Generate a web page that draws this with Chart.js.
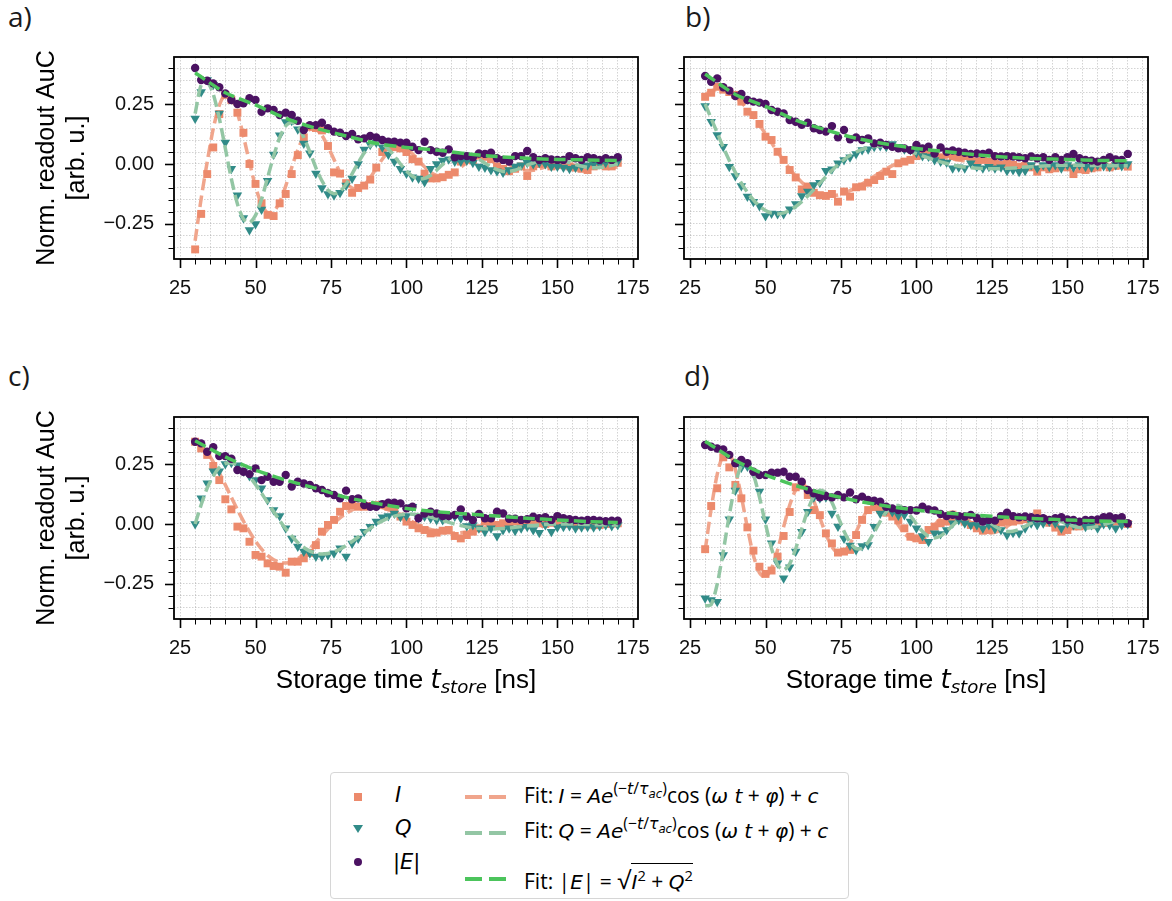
<!DOCTYPE html>
<html>
<head>
<meta charset="utf-8">
<script src="https://cdn.jsdelivr.net/npm/chart.js@4.4.1/dist/chart.umd.min.js"></script>
<style>
  body { margin: 0; width: 1172px; height: 901px; background: #fff; position: relative; overflow: hidden; font-family: "Liberation Sans", Arial, sans-serif; color: #000; }
  canvas { position: absolute; }
  .tag { position: absolute; font-family: "Open Sans", sans-serif; font-size: 28px; line-height: 28px; color: #1a1a1a; }
  .xtitle { position: absolute; width: 464px; text-align: center; font-size: 26px; line-height: 26px; white-space: nowrap; }
  .m { font-family: "DejaVu Sans", sans-serif; font-style: italic; }
  .xtitle .sub { font-size: 0.7em; position: relative; top: 0.3em; }
  #legendBox { position: absolute; left: 330px; top: 772px; width: 517px; height: 125px; border: 1.5px solid #d6d6d6; border-radius: 4px; }
  .lm { position: absolute; }
  .sq { width: 8px; height: 8px; background: #ec8a6c; }
  .tri { width: 0; height: 0; border-left: 5px solid transparent; border-right: 5px solid transparent; border-top: 8px solid #318b88; }
  .dot { width: 8px; height: 8px; border-radius: 50%; background: #4b1262; }
  .lab { position: absolute; font-family: "DejaVu Sans", sans-serif; font-style: italic; font-size: 21px; line-height: 21px; }
  .fit { position: absolute; font-family: "Open Sans", sans-serif; font-size: 21px; line-height: 21px; white-space: nowrap; }
  .fit .m { font-size: 20px; }
  .fit sup { font-size: 0.75em; position: relative; top: -0.55em; vertical-align: baseline; line-height: 0; }
  .fit sup .m { font-size: 1em; }
  .fit sup sub { font-size: 0.75em; position: relative; top: 0.35em; vertical-align: baseline; }
  .fit .sqrt { border-top: 1.5px solid #000; padding-top: 3px; margin-left: 1px; }
  .fit .rad { font-size: 1.15em; }
  .fit .two { font-size: 0.7em; position: relative; top: -0.55em; }
  svg { position: absolute; }
</style>
</head>
<body>
<div class="tag" style="left:8px;top:2px">a)</div>
<div class="tag" style="left:685px;top:2px">b)</div>
<div class="tag" style="left:8px;top:361px">c)</div>
<div class="tag" style="left:684px;top:361px">d)</div>

<canvas id="pa" width="660" height="270" style="left:0;top:40px"></canvas>
<canvas id="pb" width="512" height="270" style="left:660px;top:40px"></canvas>
<canvas id="pc" width="660" height="270" style="left:0;top:400px"></canvas>
<canvas id="pd" width="512" height="270" style="left:660px;top:400px"></canvas>

<div class="xtitle" style="left:174px;top:666px">Storage time <span class="m">t<span class="sub">store</span></span> [ns]</div>
<div class="xtitle" style="left:684px;top:666px">Storage time <span class="m">t<span class="sub">store</span></span> [ns]</div>

<div id="legendBox"></div>
<div class="lm sq" style="left:354px;top:793px"></div>
<div class="lm tri" style="left:353px;top:825px"></div>
<div class="lm dot" style="left:354px;top:858px"></div>
<div class="lab" style="left:395px;top:785px">I</div>
<div class="lab" style="left:395px;top:818px">Q</div>
<div class="lab" style="left:393px;top:852px">|E|</div>
<svg style="left:465px;top:794px" width="46" height="6"><line x1="0" y1="3" x2="46" y2="3" stroke="#f0a58c" stroke-width="4" stroke-dasharray="17 7"/></svg>
<svg style="left:465px;top:830px" width="46" height="6"><line x1="0" y1="3" x2="46" y2="3" stroke="#93c6a4" stroke-width="4" stroke-dasharray="17 7"/></svg>
<svg style="left:465px;top:876px" width="46" height="6"><line x1="0" y1="3" x2="46" y2="3" stroke="#4cc45c" stroke-width="4" stroke-dasharray="17 7"/></svg>
<div class="fit" style="left:524px;top:785px">Fit: <span class="m">I</span> = <span class="m">Ae</span><sup>(−<span class="m">t</span>/<span class="m">τ<sub>ac</sub></span>)</sup>cos (<span class="m">ω t</span> + <span class="m">φ</span>) + <span class="m">c</span></div>
<div class="fit" style="left:524px;top:820px">Fit: <span class="m">Q</span> = <span class="m">Ae</span><sup>(−<span class="m">t</span>/<span class="m">τ<sub>ac</sub></span>)</sup>cos (<span class="m">ω t</span> + <span class="m">φ</span>) + <span class="m">c</span></div>
<div class="fit" style="left:524px;top:869px">Fit: |<span class="m">E</span>| = <span class="rad">√</span><span class="sqrt"><span class="m">I</span><span class="two">2</span> + <span class="m">Q</span><span class="two">2</span></span></div>

<script>
// storage times (ns) of the measured points
const times = [30, 32, 34, 36, 38, 40, 42, 44, 46, 48, 50, 52, 54, 56, 58, 60, 62, 64, 66, 68,
  70, 72, 74, 76, 78, 80, 82, 84, 86, 88, 90, 92, 94, 96, 98, 100, 102, 104, 106, 108,
  110, 112, 114, 116, 118, 120, 122, 124, 126, 128, 130, 132, 134, 136, 138, 140, 142, 144, 146, 148,
  150, 152, 154, 156, 158, 160, 162, 164, 166, 168, 170];
// |E| fit is sampled coarser
const fitTimesE = [30, 40, 50, 60, 70, 80, 90, 100, 110, 120, 130, 140, 150, 160, 170];

// panel a)
const aI = [-0.356, -0.208, -0.042, 0.069, 0.208, 0.288, 0.267, 0.214, 0.13, 0.0,
  -0.083, -0.164, -0.212, -0.217, -0.164, -0.125, -0.042, 0.037, 0.111, 0.156,
  0.15, 0.14, 0.075, -0.035, -0.04, -0.08, -0.12, -0.10, -0.09, -0.065,
  -0.015, 0.05, 0.07, 0.07, 0.065, 0.05, 0.02, 0.01, -0.04, -0.06,
  -0.06, -0.055, -0.045, -0.035, 0.01, 0.02, 0.015, 0.035, 0.03, 0.02,
  -0.01, -0.02, -0.03, -0.02, -0.01, -0.05, -0.01, 0.0, 0.005, -0.01,
  -0.005, 0.005, -0.01, -0.015, -0.02, -0.025, -0.01, -0.005, -0.01, -0.01, 0.005];
const aQ = [0.19, 0.30, 0.35, 0.33, 0.21, 0.09, -0.02, -0.13, -0.225, -0.275,
  -0.25, -0.19, -0.07, 0.04, 0.12, 0.175, 0.18, 0.145, 0.085, 0.045,
  -0.04, -0.1, -0.125, -0.13, -0.12, -0.09, -0.06, 0.0, 0.06, 0.08,
  0.09, 0.07, 0.04, 0.01, -0.02, -0.04, -0.055, -0.06, -0.075, -0.02,
  0.0, 0.015, 0.02, 0.01, 0.01, 0.015, 0.005, -0.01, -0.015, -0.025,
  -0.03, -0.035, -0.025, -0.01, -0.005, 0.005, 0.0, 0.005, 0.0, -0.01,
  -0.01, -0.015, -0.02, -0.015, -0.01, -0.005, 0.0, 0.0, 0.005, 0.01, 0.01];
const aE = [0.40, 0.35, 0.347, 0.336, 0.32, 0.294, 0.267, 0.25, 0.253, 0.274,
  0.267, 0.218, 0.232, 0.225, 0.204, 0.214, 0.204, 0.18, 0.142, 0.162,
  0.162, 0.172, 0.149, 0.135, 0.13, 0.117, 0.125, 0.103, 0.107, 0.117,
  0.111, 0.1, 0.093, 0.093, 0.089, 0.089, 0.072, 0.058, 0.093, 0.058,
  0.051, 0.047, 0.061, 0.028, 0.033, 0.033, 0.028, 0.044, 0.042, 0.047,
  0.024, 0.017, 0.01, 0.033, 0.033, 0.054, 0.028, 0.017, 0.024, 0.019,
  0.017, 0.017, 0.033, 0.024, 0.017, 0.028, 0.024, 0.017, 0.024, 0.017, 0.028];
const aFitI = [-0.32, -0.144, 0.009, 0.147, 0.245, 0.29, 0.276, 0.213, 0.116, 0.007,
  -0.094, -0.168, -0.204, -0.199, -0.158, -0.092, -0.014, 0.059, 0.114, 0.144,
  0.144, 0.119, 0.073, 0.019, -0.035, -0.077, -0.1, -0.103, -0.087, -0.057,
  -0.018, 0.02, 0.052, 0.07, 0.074, 0.064, 0.043, 0.016, -0.012, -0.035,
  -0.048, -0.053, -0.047, -0.033, -0.014, 0.006, 0.023, 0.034, 0.038, 0.034,
  0.025, 0.012, -0.002, -0.015, -0.023, -0.027, -0.026, -0.02, -0.012, -0.002,
  0.007, 0.014, 0.018, 0.018, 0.015, 0.01, 0.002, -0.005, -0.01, -0.013, -0.013];
const aFitQ = [0.21, 0.329, 0.342, 0.291, 0.191, 0.065, -0.062, -0.166, -0.229, -0.245,
  -0.214, -0.147, -0.057, 0.033, 0.11, 0.159, 0.174, 0.156, 0.111, 0.05,
  -0.016, -0.07, -0.109, -0.124, -0.114, -0.084, -0.041, 0.005, 0.046, 0.075,
  0.087, 0.083, 0.063, 0.033, 0.0, -0.029, -0.051, -0.062, -0.06, -0.047,
  -0.026, -0.002, 0.019, 0.035, 0.044, 0.043, 0.034, 0.02, 0.004, -0.012,
  -0.023, -0.031, -0.031, -0.026, -0.016, -0.005, 0.004, 0.014, 0.02, 0.022,
  0.02, 0.014, 0.006, -0.002, -0.009, -0.014, -0.016, -0.014, -0.011, -0.005, 0.001];
const aFitE = [0.38, 0.297, 0.246, 0.19, 0.149, 0.117, 0.086, 0.069, 0.058, 0.042, 0.031, 0.024, 0.019, 0.017, 0.014];

// panel b)
const bI = [0.28, 0.297, 0.322, 0.31, 0.30, 0.288, 0.26, 0.218, 0.204, 0.167,
  0.114, 0.1, 0.051, 0.017, -0.025, -0.056, -0.106, -0.094, -0.12, -0.13,
  -0.133, -0.125, -0.157, -0.115, -0.136, -0.097, -0.094, -0.078, -0.067, -0.05,
  -0.032, -0.042, 0.003, 0.01, 0.017, 0.033, 0.044, 0.042, 0.033, 0.028,
  0.042, 0.033, 0.028, 0.033, 0.024, 0.01, 0.017, 0.01, 0.003, -0.004,
  0.003, -0.004, -0.011, -0.008, -0.014, -0.032, -0.014, -0.022, -0.018, -0.011,
  -0.014, -0.042, -0.022, -0.025, -0.018, -0.014, -0.004, -0.014, -0.008, -0.004, -0.011];
const bQ = [0.242, 0.176, 0.121, 0.072, -0.011, -0.05, -0.092, -0.136, -0.157, -0.175,
  -0.217, -0.206, -0.208, -0.208, -0.189, -0.167, -0.133, -0.115, -0.088, -0.078,
  -0.028, -0.022, 0.003, 0.017, 0.028, 0.042, 0.058, 0.061, 0.072, 0.075,
  0.072, 0.083, 0.072, 0.061, 0.058, 0.047, 0.033, 0.031, 0.017, 0.01,
  0.006, -0.018, -0.014, -0.018, 0.003, -0.011, -0.018, -0.011, -0.018, -0.014,
  -0.028, -0.025, -0.032, -0.028, -0.004, -0.018, -0.004, -0.011, -0.004, -0.018,
  -0.004, -0.014, -0.004, -0.011, -0.014, -0.004, -0.008, -0.011, -0.004, -0.008, 0.0];
const bE = [0.367, 0.343, 0.357, 0.32, 0.306, 0.283, 0.292, 0.267, 0.26, 0.256,
  0.25, 0.225, 0.218, 0.211, 0.183, 0.176, 0.163, 0.172, 0.149, 0.142,
  0.135, 0.158, 0.111, 0.142, 0.103, 0.111, 0.1, 0.107, 0.086, 0.089,
  0.079, 0.072, 0.065, 0.065, 0.058, 0.079, 0.065, 0.072, 0.044, 0.069,
  0.051, 0.056, 0.051, 0.047, 0.042, 0.044, 0.042, 0.047, 0.033, 0.031,
  0.033, 0.031, 0.028, 0.024, 0.031, 0.024, 0.028, 0.017, 0.028, 0.017,
  0.028, 0.042, 0.024, 0.017, 0.014, 0.01, 0.017, 0.028, 0.019, 0.017, 0.042];
const bFitI = [0.29, 0.305, 0.31, 0.308, 0.298, 0.28, 0.257, 0.23, 0.198, 0.163,
  0.126, 0.088, 0.05, 0.014, -0.02, -0.05, -0.076, -0.098, -0.114, -0.125,
  -0.131, -0.132, -0.129, -0.122, -0.111, -0.098, -0.083, -0.067, -0.051, -0.035,
  -0.02, -0.007, 0.005, 0.014, 0.021, 0.026, 0.029, 0.03, 0.03, 0.028,
  0.025, 0.021, 0.017, 0.013, 0.008, 0.004, 0.0, -0.003, -0.006, -0.008,
  -0.01, -0.011, -0.012, -0.012, -0.012, -0.012, -0.011, -0.011, -0.01, -0.009,
  -0.009, -0.008, -0.008, -0.008, -0.008, -0.008, -0.007, -0.007, -0.007, -0.007, -0.007];
const bFitQ = [0.25, 0.19, 0.13, 0.07, 0.015, -0.035, -0.08, -0.118, -0.15, -0.176,
  -0.194, -0.205, -0.208, -0.204, -0.194, -0.178, -0.157, -0.133, -0.107, -0.08,
  -0.053, -0.027, -0.003, 0.018, 0.036, 0.05, 0.061, 0.069, 0.073, 0.075,
  0.074, 0.071, 0.066, 0.059, 0.051, 0.043, 0.034, 0.025, 0.017, 0.009,
  0.002, -0.004, -0.009, -0.013, -0.016, -0.018, -0.019, -0.02, -0.02, -0.019,
  -0.018, -0.017, -0.015, -0.013, -0.011, -0.01, -0.008, -0.007, -0.006, -0.005,
  -0.005, -0.005, -0.005, -0.005, -0.006, -0.006, -0.006, -0.007, -0.007, -0.007, -0.007];
const bFitE = [0.375, 0.29, 0.24, 0.183, 0.142, 0.107, 0.083, 0.065, 0.051, 0.038, 0.028, 0.022, 0.019, 0.015, 0.013];

// panel c)
const cI = [0.343, 0.315, 0.288, 0.242, 0.183, 0.103, 0.061, -0.011, -0.018, -0.074,
  -0.129, -0.136, -0.164, -0.175, -0.178, -0.203, -0.157, -0.157, -0.143, -0.12,
  -0.088, -0.032, -0.004, 0.017, 0.051, 0.075, 0.079, 0.072, 0.072, 0.075,
  0.079, 0.079, 0.072, 0.058, 0.031, 0.01, -0.004, -0.018, -0.025, -0.039,
  -0.036, -0.028, -0.025, -0.05, -0.06, -0.046, -0.032, -0.018, 0.01, 0.006,
  -0.004, 0.003, 0.006, 0.01, -0.004, 0.003, 0.006, 0.003, 0.0, 0.005,
  0.003, 0.0, 0.005, 0.0, -0.005, 0.0, -0.005, -0.004, 0.0, 0.002, 0.003];
const cQ = [0.0, 0.107, 0.17, 0.22, 0.22, 0.25, 0.255, 0.245, 0.22, 0.2,
  0.183, 0.149, 0.1, 0.058, 0.033, -0.018, -0.06, -0.094, -0.115, -0.122,
  -0.136, -0.136, -0.129, -0.122, -0.101, -0.136, -0.081, -0.06, -0.032, -0.011,
  0.01, 0.028, 0.033, 0.044, 0.03, 0.033, 0.072, 0.025, 0.031, 0.024,
  0.017, 0.017, 0.031, 0.031, 0.024, -0.008, -0.004, -0.018, -0.032, -0.018,
  -0.05, -0.025, -0.018, -0.028, -0.018, -0.011, -0.025, -0.036, -0.004, -0.032,
  -0.014, -0.011, -0.008, -0.018, -0.014, -0.011, -0.014, -0.008, -0.004, -0.008, -0.004];
const cE = [0.343, 0.336, 0.301, 0.32, 0.283, 0.283, 0.272, 0.225, 0.218, 0.208,
  0.232, 0.183, 0.197, 0.176, 0.176, 0.204, 0.156, 0.176, 0.169, 0.163,
  0.149, 0.142, 0.128, 0.121, 0.107, 0.139, 0.103, 0.107, 0.079, 0.072,
  0.072, 0.083, 0.089, 0.089, 0.086, 0.065, 0.072, 0.024, 0.044, 0.051,
  0.044, 0.033, 0.033, 0.038, 0.061, 0.031, 0.017, 0.042, 0.024, 0.024,
  0.051, 0.044, 0.022, 0.022, 0.017, 0.02, 0.03, 0.024, 0.028, 0.017,
  0.033, 0.024, 0.02, 0.017, 0.014, 0.017, 0.017, 0.014, 0.012, 0.014, 0.014];
const cFitI = [0.345, 0.327, 0.298, 0.259, 0.213, 0.163, 0.111, 0.06, 0.012, -0.032,
  -0.072, -0.105, -0.131, -0.149, -0.16, -0.163, -0.158, -0.145, -0.126, -0.102,
  -0.076, -0.049, -0.021, 0.004, 0.026, 0.044, 0.059, 0.069, 0.075, 0.076,
  0.074, 0.068, 0.059, 0.048, 0.035, 0.022, 0.009, -0.003, -0.014, -0.023,
  -0.03, -0.035, -0.037, -0.038, -0.036, -0.033, -0.028, -0.022, -0.015, -0.009,
  -0.003, 0.002, 0.007, 0.01, 0.012, 0.013, 0.013, 0.012, 0.01, 0.008,
  0.005, 0.003, 0.0, -0.002, -0.003, -0.004, -0.005, -0.005, -0.004, -0.003, -0.002];
const cFitQ = [0.0, 0.08, 0.15, 0.2, 0.235, 0.252, 0.255, 0.245, 0.225, 0.198,
  0.165, 0.128, 0.09, 0.052, 0.015, -0.02, -0.05, -0.077, -0.098, -0.113,
  -0.122, -0.125, -0.123, -0.116, -0.105, -0.09, -0.073, -0.055, -0.036, -0.018,
  -0.001, 0.013, 0.025, 0.033, 0.038, 0.041, 0.041, 0.039, 0.035, 0.029,
  0.022, 0.015, 0.007, 0.0, -0.006, -0.012, -0.016, -0.019, -0.02, -0.021,
  -0.02, -0.019, -0.017, -0.014, -0.011, -0.008, -0.006, -0.004, -0.002, -0.001,
  0.0, 0.0, 0.0, -0.001, -0.001, -0.002, -0.003, -0.003, -0.004, -0.004, -0.005];
const cFitE = [0.347, 0.28, 0.225, 0.183, 0.149, 0.111, 0.086, 0.065, 0.051, 0.042, 0.033, 0.024, 0.017, 0.01, 0.006];

// panel d)
const dI = [-0.105, 0.075, 0.149, 0.278, 0.236, 0.163, 0.107, -0.014, -0.111, -0.178,
  -0.208, -0.194, -0.136, -0.05, 0.05, 0.153, 0.16, 0.121, 0.058, 0.037,
  -0.039, -0.081, -0.119, -0.115, -0.108, -0.046, 0.017, 0.058, 0.07, 0.06,
  0.047, 0.031, 0.015, -0.018, -0.053, -0.06, -0.067, -0.025, -0.011, 0.003,
  0.01, 0.017, 0.02, 0.01, -0.004, -0.018, -0.028, -0.025, 0.0, 0.006,
  0.01, 0.01, 0.015, 0.02, 0.025, 0.044, 0.02, 0.005, -0.015, -0.032,
  -0.025, -0.01, -0.01, -0.005, -0.005, 0.0, 0.005, 0.005, 0.01, 0.012, 0.0];
const dQ = [-0.31, -0.317, -0.324, -0.129, 0.02, 0.14, 0.235, 0.24, 0.21, 0.135,
  0.02, -0.08, -0.164, -0.226, -0.18, -0.115, -0.032, 0.051, 0.111, 0.107,
  0.111, 0.044, -0.01, -0.06, -0.09, -0.108, -0.092, -0.088, -0.011, 0.044,
  0.058, 0.05, 0.035, 0.038, 0.01, -0.018, -0.05, -0.074, -0.039, -0.042,
  -0.025, 0.003, 0.017, 0.003, -0.004, -0.004, -0.018, -0.004, -0.02, -0.025,
  -0.046, -0.036, -0.039, -0.018, 0.003, -0.004, 0.003, 0.01, 0.003, -0.018,
  0.003, -0.004, 0.01, -0.011, -0.004, -0.018, 0.0, -0.004, -0.018, -0.004, 0.0];
const dE = [0.329, 0.322, 0.315, 0.311, 0.288, 0.253, 0.267, 0.253, 0.218, 0.204,
  0.204, 0.214, 0.214, 0.218, 0.197, 0.197, 0.176, 0.142, 0.128, 0.111,
  0.117, 0.111, 0.121, 0.111, 0.131, 0.103, 0.114, 0.1, 0.097, 0.093,
  0.072, 0.065, 0.058, 0.058, 0.058, 0.056, 0.072, 0.061, 0.056, 0.042,
  0.033, 0.038, 0.033, 0.031, 0.038, 0.024, 0.01, 0.017, 0.014, 0.033,
  0.047, 0.033, 0.028, 0.031, 0.028, 0.024, 0.024, 0.017, 0.024, 0.028,
  0.019, 0.017, 0.01, 0.017, 0.017, 0.019, 0.028, 0.031, 0.024, 0.028, 0.003];
const dFitI = [-0.111, 0.064, 0.207, 0.288, 0.294, 0.228, 0.115, -0.016, -0.131, -0.204,
  -0.222, -0.185, -0.108, -0.012, 0.078, 0.142, 0.165, 0.148, 0.096, 0.027,
  -0.042, -0.095, -0.121, -0.115, -0.082, -0.033, 0.019, 0.062, 0.087, 0.088,
  0.069, 0.035, -0.005, -0.04, -0.061, -0.067, -0.056, -0.033, -0.004, 0.023,
  0.043, 0.05, 0.045, 0.029, 0.008, -0.013, -0.028, -0.037, -0.035, -0.025,
  -0.01, 0.006, 0.019, 0.026, 0.027, 0.021, 0.01, -0.001, -0.012, -0.018,
  -0.02, -0.017, -0.01, -0.001, 0.007, 0.013, 0.015, 0.013, 0.009, 0.002, -0.004];
const dFitQ = [-0.341, -0.336, -0.251, -0.114, 0.037, 0.166, 0.243, 0.255, 0.206, 0.112,
  0.0, -0.102, -0.17, -0.192, -0.166, -0.103, -0.021, 0.058, 0.116, 0.141,
  0.13, 0.09, 0.031, -0.03, -0.077, -0.103, -0.101, -0.076, -0.035, 0.011,
  0.05, 0.073, 0.077, 0.062, 0.034, 0.0, -0.031, -0.051, -0.058, -0.05,
  -0.031, -0.006, 0.018, 0.035, 0.042, 0.039, 0.027, 0.009, -0.009, -0.023,
  -0.031, -0.03, -0.023, -0.01, 0.003, 0.015, 0.022, 0.023, 0.019, 0.01,
  0.0, -0.009, -0.015, -0.017, -0.015, -0.009, -0.002, 0.005, 0.011, 0.013, 0.012];
const dFitE = [0.345, 0.265, 0.205, 0.16, 0.125, 0.097, 0.075, 0.058, 0.046, 0.036, 0.028, 0.022, 0.017, 0.013, 0.01];

const colI = '#ec8a6c', colQ = '#318b88', colE = '#4b1262';
const colFitI = '#f0a58c', colFitQ = '#93c6a4', colFitE = '#4cc45c';

Chart.defaults.font.family = '"Liberation Sans", Arial, sans-serif';
Chart.defaults.color = '#000';
Chart.defaults.animation = false;

function pts(xs, ys) {
    return xs.map((x, i) => ({ x: x, y: ys[i] }));
}

function isMajorY(v) {
    return Math.round(v * 100) % 25 === 0;
}

// keep the plot box where it is, no extra room for end labels
function noPad(s) {
    s.paddingTop = 0;
    s.paddingBottom = 0;
    s.paddingLeft = 0;
    s.paddingRight = 0;
}

// matplotlib-like frame with major / minor tick marks
const frameTicks = {
    id: 'frameTicks',
    afterDraw(chart) {
        const { ctx, chartArea: a } = chart;
        const x = chart.scales.x, y = chart.scales.y;
        ctx.save();
        ctx.strokeStyle = '#000';
        x.ticks.forEach((t) => {
            const px = Math.round(x.getPixelForValue(t.value)) + 0.5;
            const major = Math.round(t.value) % 25 === 0;
            ctx.lineWidth = major ? 1.6 : 1;
            ctx.beginPath();
            ctx.moveTo(px, a.bottom);
            ctx.lineTo(px, a.bottom + (major ? 9 : 5.5));
            ctx.stroke();
        });
        y.ticks.forEach((t) => {
            const py = Math.round(y.getPixelForValue(t.value)) + 0.5;
            const major = isMajorY(t.value);
            ctx.lineWidth = major ? 1.6 : 1;
            ctx.beginPath();
            ctx.moveTo(a.left, py);
            ctx.lineTo(a.left - (major ? 9 : 5.5), py);
            ctx.stroke();
        });
        ctx.lineWidth = 1.8;
        ctx.strokeRect(a.left, a.top, a.right - a.left, a.bottom - a.top);
        ctx.restore();
    }
};

function panel(id, I, Q, E, fitI, fitQ, fitE, withLabels) {
    const fitLine = { showLine: true, pointRadius: 0, borderWidth: 3.5, borderDash: [12, 5], tension: 0.25, fill: false };
    new Chart(document.getElementById(id), {
        type: 'scatter',
        data: {
            datasets: [
                Object.assign({ label: 'Fit |E|', data: pts(fitTimesE, fitE), borderColor: colFitE, order: 0 }, fitLine),
                { label: '|E|', data: pts(times, E), pointStyle: 'circle', pointRadius: 4.2, backgroundColor: colE, borderWidth: 0, order: 1 },
                Object.assign({ label: 'Fit Q', data: pts(times, fitQ), borderColor: colFitQ, order: 2 }, fitLine),
                { label: 'Q', data: pts(times, Q), pointStyle: 'triangle', rotation: 180, pointRadius: 5.5, backgroundColor: colQ, borderWidth: 0, order: 3 },
                { label: 'I', data: pts(times, I), pointStyle: 'rect', pointRadius: 5.6, backgroundColor: colI, borderWidth: 0, order: 4 },
                Object.assign({ label: 'Fit I', data: pts(times, fitI), borderColor: colFitI, order: 5 }, fitLine),
            ],
        },
        options: {
            responsive: false,
            layout: { padding: { left: 0, top: 17, right: withLabels ? 22 : 24, bottom: 0 } },
            plugins: { legend: { display: false }, tooltip: { enabled: false } },
            scales: {
                x: {
                    type: 'linear',
                    min: 23,
                    max: 176.7,
                    afterFit: (s) => { s.height = 51; noPad(s); },
                    ticks: {
                        stepSize: 5,
                        includeBounds: false,
                        autoSkip: false,
                        maxRotation: 0,
                        padding: 17,
                        font: { size: 20 },
                        color: '#111',
                        callback: (v) => (Math.round(v) % 25 === 0 ? String(Math.round(v)) : ''),
                    },
                    grid: { color: 'rgba(0,0,0,0.22)', lineWidth: 0.8, drawTicks: false },
                    border: { display: false, dash: [1.5, 1.5] },
                },
                y: {
                    type: 'linear',
                    min: -0.396,
                    max: 0.446,
                    afterFit: (s) => { s.width = withLabels ? 174 : 24; noPad(s); },
                    title: {
                        display: withLabels,
                        text: ['Norm. readout AuC', '[arb. u.]'],
                        font: { size: 25 },
                        padding: { top: 32, bottom: 0 },
                    },
                    ticks: {
                        display: withLabels,
                        stepSize: 0.05,
                        includeBounds: false,
                        autoSkip: false,
                        padding: 20,
                        font: { size: 20 },
                        color: '#111',
                        callback: (v) => {
                            const k = Math.round(v * 100);
                            if (k % 25 !== 0) return '';
                            const s = (Math.abs(k) / 100).toFixed(2);
                            return k < 0 ? '\u2212' + s : s;
                        },
                    },
                    grid: { color: 'rgba(0,0,0,0.22)', lineWidth: 0.8, drawTicks: false },
                    border: { display: false, dash: [1.5, 1.5] },
                },
            },
        },
        plugins: [frameTicks],
    });
}

panel('pa', aI, aQ, aE, aFitI, aFitQ, aFitE, true);
panel('pb', bI, bQ, bE, bFitI, bFitQ, bFitE, false);
panel('pc', cI, cQ, cE, cFitI, cFitQ, cFitE, true);
panel('pd', dI, dQ, dE, dFitI, dFitQ, dFitE, false);
</script>
</body>
</html>
